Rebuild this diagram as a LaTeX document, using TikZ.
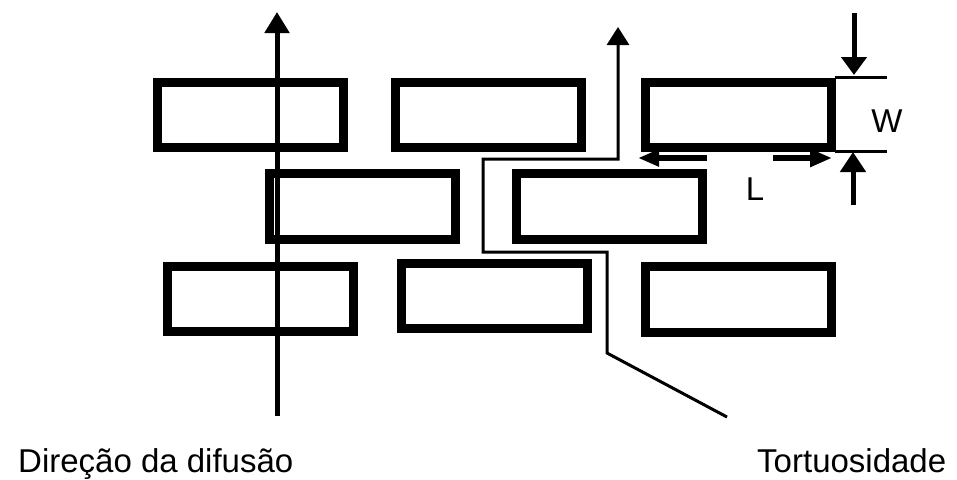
\documentclass[tikz,border=0pt]{standalone}
\usepackage{fontspec}
\setmainfont{Liberation Sans}
\usetikzlibrary{arrows.meta}
\begin{document}
\begin{tikzpicture}[x=1pt,y=-1pt,
  brick/.style={draw, rectangle, line width=9pt, inner sep=0pt,
    minimum width=186pt, minimum height=65.5pt},
  txt/.style={inner sep=0pt, font=\fontsize{33}{40}\selectfont},
  thickarrow/.style={line width=5pt},
  pathline/.style={line width=3pt},
  dimline/.style={line width=3pt}]
\useasboundingbox (0,0) rectangle (957,479);

% bricks, three staggered rows
\node[brick] (b11) at (250.25,114.75) {};
\node[brick] (b12) at (488.75,114.75) {};
\node[brick] (b13) at (738.25,114.75) {};
\node[brick] (b21) at (362.75,206.25) {};
\node[brick] (b22) at (609.75,206.25) {};
\node[brick] (b31) at (260.25,299) {};
\node[brick] (b32) at (494.25,296) {};
\node[brick] (b33) at (738.5,299.5) {};

% straight diffusion direction
\coordinate (dstart) at (277,416);
\coordinate (dend) at (277,12);
\draw[thickarrow, -{Triangle[length=21pt,width=24pt]}] (dstart) -- (dend);

% tortuous path between the bricks
\coordinate (t0) at (727,417);
\coordinate (t1) at (607,353);
\coordinate (t2) at (607,252);
\coordinate (t3) at (483,252);
\coordinate (t4) at (483,159);
\coordinate (t5) at (618,159);
\coordinate (t6) at (618,27);
\draw[pathline, -{Triangle[length=18pt,width=22pt]}]
  (t0) -- (t1) -- (t2) -- (t3) -- (t4) -- (t5) -- (t6);

% W dimension
\coordinate (wt0) at (835,77);
\coordinate (wt1) at (887,77);
\coordinate (wb0) at (835,151);
\coordinate (wb1) at (887,151);
\draw[dimline] (wt0) -- (wt1);
\draw[dimline] (wb0) -- (wb1);
\coordinate (wa0) at (854,13);
\coordinate (wa1) at (854,75);
\coordinate (wc0) at (853,205);
\coordinate (wc1) at (853,152);
\draw[thickarrow, -{Triangle[length=18pt,width=25pt]}] (wa0) -- (wa1);
\draw[thickarrow, -{Triangle[length=20pt,width=25pt]}] (wc0) -- (wc1);
\node[txt] (w) at (887,121) {W};

% L dimension
\coordinate (la0) at (707,158);
\coordinate (la1) at (638,158);
\coordinate (lb0) at (773,158);
\coordinate (lb1) at (832,158);
\draw[line width=6pt, -{Triangle[length=21pt,width=16pt]}] (la0) -- (la1);
\draw[line width=6pt, -{Triangle[length=22pt,width=17pt]}] (lb0) -- (lb1);
\node[txt] (l) at (755,189) {L};

% captions
\node[txt, anchor=base west] (dif) at (18,472) {Direção da difusão};
\node[txt, anchor=base west] (tort) at (757,472) {Tortuosidade};
\end{tikzpicture}
\end{document}
